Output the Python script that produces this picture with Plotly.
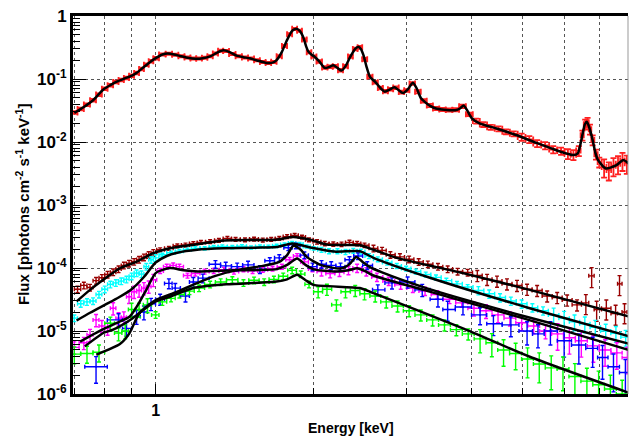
import numpy as np
import plotly.graph_objects as go

# ---------------- data ----------------
# Red (bright source) spectrum
red_E = [0.70,0.72,0.74,0.76,0.78,0.80,0.82,0.84,0.86,0.88,0.90,0.92,0.94,0.96,0.98,1.00,
         1.03,1.06,1.09,1.12,1.15,1.18,1.21,1.24,1.27,1.30,1.33,1.36,
         1.40,1.44,1.48,1.52,1.56,1.60,1.64,1.68,1.72,1.76,1.80,1.84,1.88,1.92,1.96,2.00,
         2.05,2.10,2.15,2.20,2.25,2.30,2.35,2.40,2.45,2.50,
         2.56,2.62,2.68,2.74,2.80,2.87,2.94,3.01,3.08,
         3.16,3.24,3.33,3.42,3.52,3.62,3.73,3.84,3.96,
         4.08,4.21,4.35,4.50,4.65,4.81,4.98,5.15,5.33,5.52,5.72,5.92,
         6.10,6.25,6.40,6.50,6.58,6.65,6.72,6.80,6.90,7.00,
         7.15,7.30,7.45,7.60,7.75,7.90]
red_F = [0.0295,0.0335,0.0392,0.0462,0.0565,0.0700,0.0795,0.0895,0.0965,0.1040,0.1130,0.1250,0.1440,0.1680,0.1920,0.2140,
         0.2450,0.2520,0.2430,0.2290,0.2190,0.2110,0.2120,0.2170,0.2300,0.2550,0.2800,0.2790,
         0.2500,0.2290,0.2200,0.2110,0.1980,0.1860,0.1790,0.1870,0.2300,0.3350,0.5150,0.6250,0.5850,0.4250,0.2650,0.2280,
         0.1900,0.1520,0.1570,0.1600,0.1380,0.1600,0.2280,0.3000,0.3180,0.2050,
         0.1090,0.0890,0.0720,0.0640,0.0690,0.0730,0.0620,0.0660,0.0850,
         0.0630,0.0450,0.0380,0.0340,0.0328,0.0322,0.0325,0.0368,0.0275,
         0.0215,0.0190,0.0171,0.0162,0.0146,0.0135,0.0120,0.0110,0.0095,0.0088,0.0076,0.0072,
         0.0065,0.0063,0.0073,0.0128,0.0192,0.0205,0.0160,0.0108,0.0064,0.0048,
         0.0040,0.0036,0.0042,0.0045,0.0051,0.0046]
red_err_pct = [5]*16 + [4]*28 + [5]*19 + [6]*9 + [9]*6 + [13]*6 + [18]*10 + [32]*6

red_model_E = [0.700,0.730,0.760,0.795,0.820,0.843,0.870,0.897,0.920,0.947,0.975,1.004,1.030,1.055,1.085,1.112,
               1.150,1.190,1.230,1.270,1.310,1.345,1.380,1.426,1.470,1.512,1.560,1.627,1.670,1.700,1.740,1.776,
               1.820,1.856,1.885,1.911,1.935,1.953,1.980,2.010,2.050,2.100,2.140,2.180,2.220,2.260,2.300,2.345,
               2.400,2.433,2.460,2.490,2.520,2.560,2.620,2.680,2.730,2.790,2.850,2.900,2.960,3.020,3.090,3.140,
               3.200,3.260,3.340,3.420,3.550,3.720,3.800,3.860,3.920,4.000,4.140,4.460,4.860,5.310,5.800,6.250,
               6.370,6.450,6.510,6.570,6.630,6.700,6.800,6.880,6.960,7.200,7.550,7.780,8.000]
red_model_F = [0.029,0.036,0.046,0.068,0.080,0.091,0.101,0.111,0.125,0.152,0.185,0.218,0.245,0.254,0.245,0.232,
               0.218,0.210,0.214,0.228,0.262,0.285,0.270,0.235,0.222,0.213,0.197,0.180,0.182,0.200,0.270,0.400,
               0.580,0.630,0.570,0.460,0.330,0.275,0.245,0.224,0.190,0.150,0.155,0.166,0.150,0.136,0.160,0.220,
               0.300,0.325,0.300,0.235,0.160,0.108,0.090,0.072,0.063,0.068,0.074,0.067,0.060,0.068,0.087,0.072,
               0.050,0.043,0.037,0.034,0.0325,0.032,0.034,0.038,0.032,0.0240,0.0198,0.0164,0.0129,0.0097,0.0074,0.0062,
               0.0066,0.0095,0.0137,0.0190,0.0210,0.0170,0.0107,0.0068,0.0052,0.0038,0.0043,0.0052,0.0044]

# Dark red (brown) spectrum
brown_E = [0.71,0.73,0.75,0.77,0.79,0.81,0.83,0.85,0.87,0.89,0.91,0.93,0.95,0.97,0.99,
           1.02,1.06,1.10,1.14,1.18,1.22,1.27,1.32,1.37,1.42,
           1.48,1.54,1.60,1.66,1.72,1.78,1.84,1.90,1.96,
           2.03,2.10,2.18,2.26,2.34,2.42,2.50,
           2.60,2.70,2.80,2.92,3.04,3.17,3.30,3.45,3.60,3.76,3.93,
           4.10,4.28,4.47,4.67,4.88,5.10,5.33,5.57,5.82,6.08,6.35,
           6.60,6.77,6.92,7.22,7.52,7.65,7.82]
brown_F = [4.6e-5,5.3e-5,4.9e-5,6.3e-5,7.0e-5,7.9e-5,8.6e-5,9.6e-5,1.10e-4,1.18e-4,1.26e-4,1.36e-4,1.48e-4,1.62e-4,1.75e-4,
           1.95e-4,2.05e-4,2.25e-4,2.32e-4,2.45e-4,2.55e-4,2.62e-4,2.75e-4,2.95e-4,2.85e-4,
           2.80e-4,2.88e-4,2.78e-4,2.85e-4,2.95e-4,3.15e-4,3.30e-4,3.10e-4,2.80e-4,
           2.60e-4,2.45e-4,2.40e-4,2.38e-4,2.55e-4,2.45e-4,2.30e-4,
           2.05e-4,1.90e-4,1.62e-4,1.50e-4,1.38e-4,1.25e-4,1.15e-4,1.05e-4,9.6e-5,8.8e-5,8.5e-5,
           7.6e-5,6.6e-5,6.2e-5,5.6e-5,5.3e-5,4.6e-5,4.4e-5,3.6e-5,3.4e-5,3.1e-5,2.6e-5,
           2.8e-5,7.5e-5,2.2e-5,2.3e-5,1.9e-5,5.6e-5,2.0e-5]
brown_err_pct = [12]*15 + [7]*19 + [8]*7 + [12]*11 + [20]*11 + [35]*7

brown_model_E = [0.707,0.75,0.795,0.855,0.92,0.99,1.065,1.2,1.35,1.55,1.7,1.83,1.97,2.12,2.3,2.45,2.6,2.88,3.85,5.16,7.96]
brown_model_F = [2.95e-5,4.5e-5,6.5e-5,9.9e-5,1.26e-4,1.72e-4,2.06e-4,2.38e-4,2.72e-4,2.78e-4,2.82e-4,3.1e-4,2.8e-4,
                 2.35e-4,2.32e-4,2.3e-4,1.95e-4,1.45e-4,8.3e-5,4.5e-5,1.7e-5]

# Cyan spectrum
cyan_E = [0.70,0.72,0.74,0.76,0.78,0.80,0.82,0.84,0.86,0.88,0.90,0.92,0.94,0.96,0.98,1.00,
          1.03,1.07,1.11,1.15,1.19,1.24,1.29,1.34,1.40,1.46,1.52,1.58,1.64,1.70,1.76,1.82,1.88,1.94,2.00,
          2.07,2.14,2.22,2.30,2.38,2.46,2.55,2.65,2.76,2.88,3.00,3.13,3.27,3.42,3.58,3.75,3.93,
          4.12,4.32,4.53,4.75,4.98,5.22,5.47,5.73,6.00,6.28,6.57,6.88,7.20,7.53,7.86]
cyan_F = [1.6e-5,2.7e-5,2.9e-5,3.0e-5,3.8e-5,4.6e-5,5.5e-5,5.8e-5,6.2e-5,6.6e-5,7.4e-5,8.3e-5,8.0e-5,1.05e-4,1.35e-4,1.45e-4,
          1.62e-4,1.75e-4,1.85e-4,1.95e-4,2.05e-4,2.05e-4,2.15e-4,2.20e-4,2.15e-4,2.22e-4,2.12e-4,2.20e-4,2.18e-4,2.25e-4,2.35e-4,2.50e-4,2.40e-4,2.20e-4,2.05e-4,
          1.95e-4,1.85e-4,1.85e-4,1.80e-4,1.88e-4,1.82e-4,1.55e-4,1.38e-4,1.22e-4,1.08e-4,9.8e-5,8.8e-5,7.9e-5,7.1e-5,6.3e-5,5.6e-5,5.0e-5,
          4.4e-5,3.9e-5,3.4e-5,3.0e-5,2.7e-5,2.35e-5,2.1e-5,1.8e-5,1.6e-5,1.4e-5,1.3e-5,1.15e-5,1.0e-5,9.2e-6,8.0e-6]
cyan_err_pct = [12]*16 + [6]*19 + [9]*17 + [15]*7 + [28]*8

cyan_model_E = [0.707,0.75,0.80,0.85,0.90,0.95,1.0,1.05,1.1,1.2,1.35,1.55,1.7,1.82,1.98,2.19,2.45,2.6,3.33,5.16,7.96]
cyan_model_F = [1.47e-5,1.95e-5,2.6e-5,3.4e-5,4.6e-5,7.2e-5,1.22e-4,1.55e-4,1.75e-4,1.95e-4,2.05e-4,2.1e-4,2.15e-4,
                2.45e-4,2.1e-4,1.82e-4,1.85e-4,1.45e-4,7.0e-5,2.3e-5,8.3e-6]

# Magenta spectrum
mag_E = [0.70,0.73,0.75,0.77,0.79,0.81,0.83,0.85,0.87,0.89,0.91,0.93,0.95,0.97,0.99,
         1.02,1.05,1.08,1.11,1.15,1.19,1.24,1.29,1.35,1.41,1.47,1.53,1.60,1.67,1.74,1.80,1.86,1.92,1.99,
         2.07,2.15,2.24,2.33,2.42,2.52,2.64,2.78,2.93,3.09,3.26,3.44,3.63,3.83,
         4.04,4.26,4.49,4.73,4.98,5.25,5.53,5.83,6.14,6.47,6.82,7.18,7.56,7.92]
mag_F = [5.5e-6,6.5e-6,8.7e-6,1.5e-5,1.2e-5,1.1e-5,2.3e-5,1.6e-5,1.65e-5,3.5e-5,4.2e-5,4.4e-5,4.8e-5,5.1e-5,6.5e-5,
         9.0e-5,1.05e-4,1.10e-4,1.05e-4,7.6e-5,8.2e-5,8.8e-5,9.0e-5,9.4e-5,8.8e-5,9.6e-5,9.0e-5,9.4e-5,9.8e-5,1.05e-4,1.35e-4,1.55e-4,1.25e-4,9.6e-5,
         8.8e-5,8.2e-5,8.6e-5,9.2e-5,1.0e-4,8.8e-5,7.2e-5,6.2e-5,5.4e-5,4.8e-5,4.3e-5,3.8e-5,3.2e-5,2.8e-5,
         2.3e-5,2.1e-5,1.8e-5,1.6e-5,1.35e-5,1.2e-5,1.0e-5,9.0e-6,7.8e-6,7.0e-6,5.8e-6,5.0e-6,4.5e-6,3.8e-6]
mag_err_pct = [22]*15 + [9]*19 + [15]*14 + [25]*7 + [45]*7

mag_model_E = [0.718,0.76,0.80,0.85,0.893,0.93,0.96,1.0,1.065,1.13,1.2,1.4,1.7,1.78,1.86,1.93,2.0,2.2,2.33,2.42,2.5,2.6,3.3,5.0,7.96]
mag_model_F = [6.8e-6,8.8e-6,1.1e-5,1.38e-5,1.7e-5,2.8e-5,4.5e-5,8.3e-5,1.0e-4,9.2e-5,8.8e-5,9.2e-5,9.6e-5,1.12e-4,
               1.42e-4,1.12e-4,9.5e-5,8.8e-5,9.2e-5,9.9e-5,9.0e-5,7.6e-5,4.3e-5,1.6e-5,5.0e-6]

# Blue spectrum
blue_E = [0.77,0.85,0.88,0.92,0.95,0.98,1.02,1.06,1.09,1.14,1.18,1.23,1.30,1.36,1.43,1.50,1.58,1.65,1.72,1.79,1.85,1.92,1.99,
          2.07,2.16,2.25,2.34,2.43,2.53,
          2.65,2.82,3.02,3.22,3.45,3.60,3.85,4.15,4.40,4.75,5.10,5.35,5.65,6.00,6.40,6.80,7.10,7.45,7.85]
blue_F = [2.7e-6,1.5e-5,1.1e-5,1.7e-5,2.0e-5,2.7e-5,3.2e-5,5.7e-5,4.8e-5,3.6e-5,6.0e-5,6.9e-5,1.15e-4,1.08e-4,1.05e-4,1.12e-4,
          9.5e-5,1.30e-4,1.45e-4,2.10e-4,2.25e-4,1.60e-4,1.05e-4,1.15e-4,1.10e-4,1.05e-4,1.35e-4,1.55e-4,1.10e-4,
          4.5e-5,5.8e-5,6.0e-5,4.5e-5,3.2e-5,2.2e-5,2.4e-5,1.8e-5,1.3e-5,1.25e-5,1.0e-5,9.0e-6,1.0e-5,7.0e-6,6.0e-6,5.3e-6,3.8e-6,2.7e-6,2.2e-6]
blue_err_pct = [45,25,25,25,25,22,20,18,18,20,18,16,14,14,14,14,14,12,12,10,10,12,14,14,14,14,12,12,14,
                20,20,20,22,25,35,25,30,35,35,40,40,40,45,50,50,55,60,60]

blue_model_E = [0.771,0.855,0.89,0.93,0.97,1.0,1.1,1.19,1.3,1.45,1.6,1.72,1.78,1.83,1.89,1.94,2.06,2.25,2.34,2.41,2.48,2.55,2.7,3.3,5.0,7.96]
blue_model_F = [4.2e-6,6.2e-6,9.0e-6,1.9e-5,2.6e-5,3.1e-5,4.2e-5,5.6e-5,7.5e-5,9.5e-5,1.08e-4,1.25e-4,1.6e-4,2.25e-4,
                1.95e-4,1.5e-4,1.12e-4,9.8e-5,1.15e-4,1.5e-4,1.25e-4,1.05e-4,8.5e-5,4.7e-5,1.75e-5,6.3e-6]

# Green spectrum
green_E = [0.70,0.74,0.78,0.82,0.85,0.875,0.90,0.93,0.965,1.00,1.03,1.07,1.11,1.16,1.21,1.27,1.33,1.40,1.47,1.54,1.61,1.68,1.75,1.82,1.89,1.96,
           2.04,2.12,2.21,2.30,2.40,2.50,2.62,2.75,2.89,3.04,3.20,3.37,3.55,3.74,3.94,
           4.15,4.37,4.60,4.85,5.11,5.38,5.67,5.97,6.29,6.63,6.98,7.35,7.74]
green_F = [4.3e-6,4.4e-6,4.6e-6,1.33e-5,9.3e-6,1.0e-5,2.2e-5,2.2e-5,2.6e-5,1.8e-5,2.9e-5,3.3e-5,3.8e-5,4.3e-5,4.8e-5,5.5e-5,
           6.0e-5,6.5e-5,5.8e-5,6.4e-5,6.0e-5,6.6e-5,7.4e-5,9.2e-5,8.0e-5,5.5e-5,
           4.2e-5,4.6e-5,2.6e-5,4.2e-5,4.4e-5,3.9e-5,3.6e-5,2.9e-5,2.5e-5,2.1e-5,1.8e-5,1.5e-5,1.25e-5,1.05e-5,9.0e-6,
           7.5e-6,6.5e-6,5.0e-6,4.4e-6,3.6e-6,3.0e-6,2.6e-6,2.5e-6,1.9e-6,1.6e-6,1.4e-6,1.2e-6,1.0e-6]
green_err_pct = [30]*3 + [25]*6 + [12]*17 + [20]*15 + [40,40,45,45,50,50,55,55,60,60,65,65,65]

green_model_E = [0.733,0.795,0.83,0.9,0.95,1.0,1.065,1.18,1.365,1.7,1.78,1.86,1.93,2.0,2.45,2.6,3.85,5.16,7.96]
green_model_F = [5.7e-6,9.3e-6,1.05e-5,1.55e-5,2.2e-5,2.94e-5,3.5e-5,4.8e-5,5.5e-5,6.1e-5,6.6e-5,7.8e-5,6.4e-5,5.4e-5,
                 4.8e-5,4.0e-5,1.1e-5,3.9e-6,1.05e-6]

y_tick_vals = [1e-6, 1e-5, 1e-4, 1e-3, 1e-2, 1e-1, 1]
y_tick_text = ["10<sup>-6</sup>", "10<sup>-5</sup>", "10<sup>-4</sup>", "10<sup>-3</sup>",
               "10<sup>-2</sup>", "10<sup>-1</sup>", "1"]
x_major_vals = [1]
x_major_text = ["1"]
x_minor_vals = [0.7, 0.8, 0.9, 2, 3, 4, 5, 6, 7, 8]

# ---------------- figure ----------------
FONT = "Liberation Sans"


def bin_errors(E):
    E = np.asarray(E, dtype=float)
    mid = np.sqrt(E[1:] * E[:-1])
    hi = np.append(mid, E[-1] ** 2 / mid[-1])
    lo = np.insert(mid, 0, E[0] ** 2 / mid[0])
    return hi - E, E - lo


def data_trace(E, F, pct, color, thick=1.4, cap=2):
    F = np.asarray(F, dtype=float)
    ey = F * np.asarray(pct, dtype=float) / 100.0
    xp, xm = bin_errors(E)
    return go.Scatter(
        x=E, y=F, mode="markers",
        marker=dict(color=color, size=2, line=dict(width=0)),
        error_y=dict(type="data", array=ey, color=color, thickness=thick, width=cap),
        error_x=dict(type="data", array=xp, arrayminus=xm, color=color, thickness=thick, width=cap),
        hoverinfo="skip", showlegend=False,
    )


def model_trace(E, F):
    return go.Scatter(
        x=E, y=F, mode="lines",
        line=dict(color="black", width=2.5, shape="spline", smoothing=0.6),
        hoverinfo="skip", showlegend=False,
    )


fig = go.Figure()
fig.add_trace(data_trace(red_E, red_F, red_err_pct, "#ff2020", thick=1.8, cap=3))
fig.add_trace(model_trace(red_model_E, red_model_F))

fig.add_trace(data_trace(brown_E, brown_F, brown_err_pct, "#990000"))
fig.add_trace(data_trace(cyan_E, cyan_F, cyan_err_pct, "#00ffff"))
fig.add_trace(data_trace(mag_E, mag_F, mag_err_pct, "#ff00ff"))
fig.add_trace(data_trace(blue_E, blue_F, blue_err_pct, "#0000ff"))
fig.add_trace(data_trace(green_E, green_F, green_err_pct, "#00ff00"))

for E, F in [(brown_model_E, brown_model_F), (cyan_model_E, cyan_model_F),
             (mag_model_E, mag_model_F), (blue_model_E, blue_model_F),
             (green_model_E, green_model_F)]:
    fig.add_trace(model_trace(E, F))

grid_col = "#555555"
fig.update_xaxes(
    type="log", range=[np.log10(0.696), np.log10(7.94)],
    tickvals=x_major_vals, ticktext=x_major_text,
    ticks="inside", ticklen=10, tickwidth=1, tickcolor="black",
    showgrid=True, gridcolor=grid_col, griddash="dot", gridwidth=1,
    minor=dict(tickvals=x_minor_vals, ticks="inside", ticklen=6, tickwidth=1, tickcolor="black",
               showgrid=True, gridcolor=grid_col, griddash="dot", gridwidth=1),
    showline=True, linecolor="black", linewidth=3, mirror=True,
    tickfont=dict(family=FONT, size=16, color="black", weight="bold"),
    zeroline=False, automargin=False,
)
fig.update_yaxes(
    type="log", range=[-6, 0],
    tickvals=y_tick_vals, ticktext=y_tick_text,
    ticks="inside", ticklen=13, tickwidth=1, tickcolor="black",
    showgrid=True, gridcolor=grid_col, griddash="dot", gridwidth=1,
    minor=dict(tickvals=[k * 10.0 ** n for n in range(-6, 0) for k in range(2, 10)],
               ticks="inside", ticklen=7, tickwidth=1, tickcolor="black", showgrid=False),
    showline=True, linecolor="black", linewidth=3, mirror=False,
    tickfont=dict(family=FONT, size=17, color="black", weight="bold"),
    zeroline=False, automargin=False,
)

fig.add_shape(type="line", xref="x domain", yref="y domain", x0=1, x1=1, y0=0, y1=1,
              line=dict(color="#999999", width=1))

fig.add_annotation(text="<b>Energy [keV]</b>", xref="paper", yref="paper", x=0.5, y=0,
                   yshift=-34, showarrow=False, xanchor="center", yanchor="middle",
                   font=dict(family=FONT, size=14, color="black"))
fig.add_annotation(text="<b>Flux [photons cm<sup>-2</sup> s<sup>-1</sup> keV<sup>-1</sup>]</b>",
                   xref="paper", yref="paper", x=0, y=0.5, xshift=-51, textangle=-90,
                   showarrow=False, xanchor="center", yanchor="middle",
                   font=dict(family=FONT, size=15, color="black"))

fig.update_layout(
    width=629, height=439,
    margin=dict(l=73, r=1, t=16, b=45),
    plot_bgcolor="white", paper_bgcolor="white",
    showlegend=False,
)

fig.write_html("out.html")
